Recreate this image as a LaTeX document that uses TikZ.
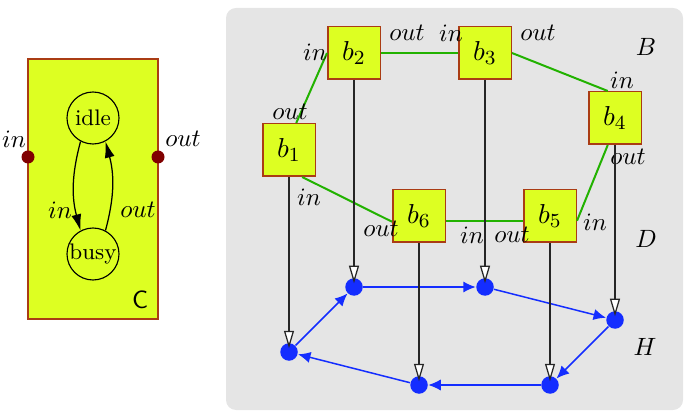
\documentclass[tikz,border=0pt]{standalone}
\usetikzlibrary{arrows.meta}
\definecolor{boxfill}{RGB}{221,255,34}
\definecolor{boxline}{RGB}{170,60,20}
\definecolor{gline}{RGB}{34,178,0}
\definecolor{bline}{RGB}{20,45,255}
\definecolor{portc}{RGB}{128,0,0}
\definecolor{bggray}{RGB}{229,229,229}
\begin{document}
\begin{tikzpicture}[x=0.4pt,y=0.4pt,
  bbox/.style={draw=boxline,fill=boxfill,line width=0.6pt,minimum size=21pt,inner sep=0pt,font=\fontsize{11}{13}\selectfont},
  cbox/.style={draw=boxline,fill=boxfill,line width=0.6pt,minimum width=52pt,minimum height=104pt,inner sep=0pt},
  state/.style={draw=black,circle,line width=0.45pt,minimum size=20.8pt,inner sep=0pt,font=\small},
  port/.style={circle,fill=portc,minimum size=5.2pt,inner sep=0pt},
  dot/.style={circle,fill=bline,minimum size=7pt,inner sep=0pt},
  lbl/.style={inner sep=0pt},
  gconn/.style={draw=gline,line width=0.8pt},
  varrow/.style={draw=black!85,line width=0.5pt,-{Triangle[fill=white,length=7pt,width=4pt]},shorten >=1.5pt},
  barrow/.style={draw=bline,line width=0.6pt,-{Latex[length=5pt,width=4.5pt]}},
  sarrow/.style={draw=black,line width=0.5pt,-{Latex[length=6.5pt,width=4pt]}}
]
\useasboundingbox (0,0) rectangle (685,413);
% background
\fill[bggray,rounded corners=4pt] (226,3) rectangle (683,405);

% component C
\node[cbox] (C) at (93,224) {};
\node[port] (pin) at (28,256) {};
\node[port] (pout) at (158,256) {};
\node[lbl] (lpin) at (14,274) {$in$};
\node[lbl] (lpout) at (183,274) {$out$};
\node[state] (idle) at (93,295) {idle};
\node[state] (busy) at (93,159) {busy};
\draw[sarrow] (idle.-118) to[out=-105,in=105] (busy.118);
\draw[sarrow] (busy.62) to[out=75,in=-75] (idle.-62);
\node[lbl] (lin) at (60,203) {$in$};
\node[lbl] (lout) at (138,203) {$out$};
\node[lbl,font=\sffamily] (lC) at (140,113) {C};

% boxes
\node[bbox] (b1) at (289,263) {$b_1$};
\node[bbox] (b2) at (354,360) {$b_2$};
\node[bbox] (b3) at (485,360) {$b_3$};
\node[bbox] (b4) at (615,295) {$b_4$};
\node[bbox] (b5) at (550,197) {$b_5$};
\node[bbox] (b6) at (419,197) {$b_6$};

% green connections
\draw[gconn] (b1.75) -- (b2.west);
\draw[gconn] (b2.east) -- (b3.west);
\draw[gconn] (b3.east) -- (b4.105);
\draw[gconn] (b4.255) -- (b5.-10);
\draw[gconn] (b5.190) -- (b6.-10);
\draw[gconn] (b6.192) -- (b1.-64);

% port labels
\node[lbl] (l1o) at (290,301) {$out$};
\node[lbl] (l2i) at (315,361) {$in$};
\node[lbl] (l2o) at (407,380) {$out$};
\node[lbl] (l3i) at (451,380) {$in$};
\node[lbl] (l3o) at (538,380) {$out$};
\node[lbl] (l4i) at (622,333) {$in$};
\node[lbl] (l4o) at (628,256) {$out$};
\node[lbl] (l5i) at (595,191) {$in$};
\node[lbl] (l5o) at (512,178) {$out$};
\node[lbl] (l6i) at (472,178) {$in$};
\node[lbl] (l6o) at (381,184) {$out$};
\node[lbl] (l1i) at (309,216) {$in$};

% layer labels
\node[lbl] (lB) at (646,366) {$B$};
\node[lbl] (lD) at (646,174) {$D$};
\node[lbl] (lH) at (645,66) {$H$};

% dots
\node[dot] (d1) at (289,61) {};
\node[dot] (d2) at (354,126) {};
\node[dot] (d3) at (485,126) {};
\node[dot] (d4) at (615,93) {};
\node[dot] (d5) at (550,28) {};
\node[dot] (d6) at (419,28) {};

% blue cycle
\draw[barrow] (d1) -- (d2);
\draw[barrow] (d2) -- (d3);
\draw[barrow] (d3) -- (d4);
\draw[barrow] (d4) -- (d5);
\draw[barrow] (d5) -- (d6);
\draw[barrow] (d6) -- (d1);

% vertical mappings
\draw[varrow] (b1) -- (d1.center);
\draw[varrow] (b2) -- (d2.center);
\draw[varrow] (b3) -- (d3.center);
\draw[varrow] (b4) -- (d4.center);
\draw[varrow] (b5) -- (d5.center);
\draw[varrow] (b6) -- (d6.center);
\end{tikzpicture}
\end{document}
